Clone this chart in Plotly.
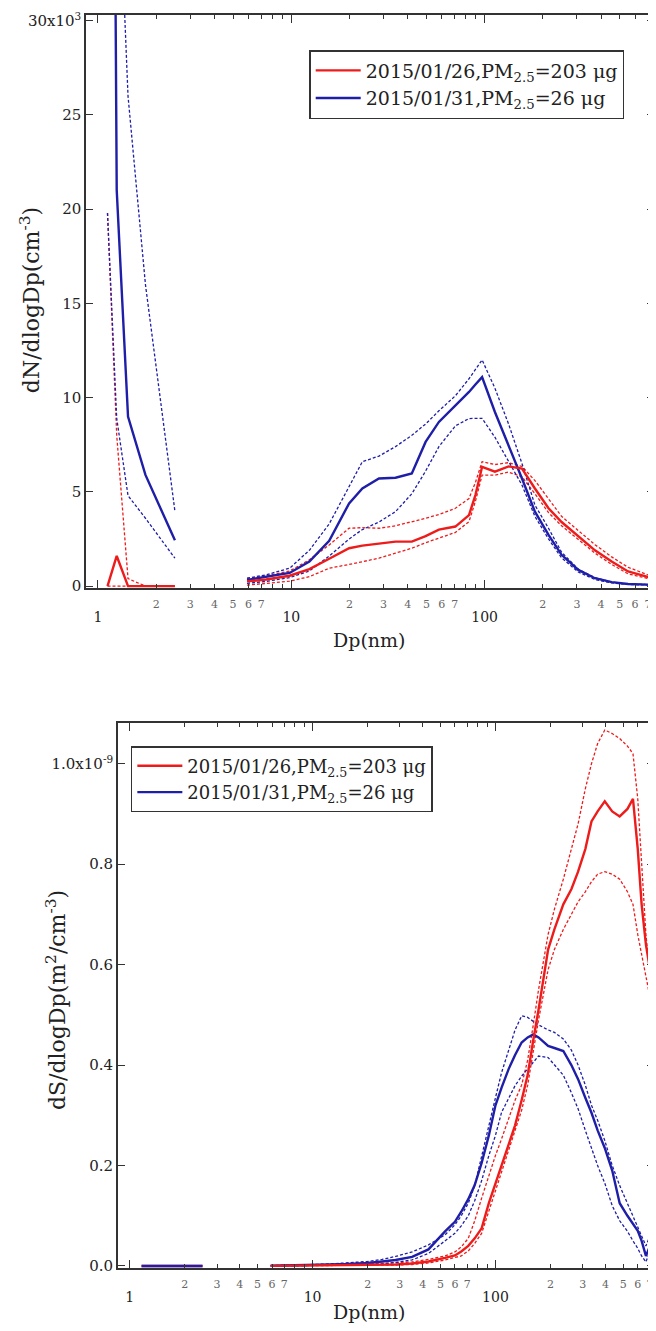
import plotly.graph_objects as go

FONT = "DejaVu Serif"
RED = "#ee1b1b"
BLUE = "#1e1ea8"
AXC = "#333333"

# ---------------- data: number size distribution (top) ----------------
psm_dp_n = [1.12, 1.25, 1.43, 1.76, 2.5]
psm_red_n = [0, 1600, 0, 0, 0]
psm_red_n_hi = [19800, 8000, 400, 0, 0]
psm_red_n_lo = [0, 0, 0, 0, 0]
psm_blue_n = [100000, 21000, 9000, 5900, 2430]
psm_blue_n_hi = [60000, 40700, 26000, 16000, 3970]
psm_blue_n_lo = [19800, 8900, 4800, 3600, 1480]

dp_n = [5.9, 7.4, 9.8, 12.4, 15.7, 19.9, 23.3, 28.4, 34.6, 42, 49.5, 58, 70.6, 83,
        89.6, 97, 113, 133, 156, 182, 214, 250, 305, 372, 454, 552, 750]
red_n = [250, 350, 550, 900, 1450, 2010, 2150, 2250, 2360, 2360, 2650, 3000, 3160, 3770,
         4830, 6330, 6070, 6350, 6240, 5180, 4130, 3400, 2650, 1900, 1300, 780, 390]
red_n_hi = [400, 550, 800, 1400, 2185, 3070, 3100, 3070, 3200, 3400, 3600, 3800, 4130, 4650,
            5500, 6600, 6450, 6550, 6350, 5600, 4600, 3700, 2950, 2200, 1550, 1000, 480]
red_n_lo = [50, 150, 260, 500, 950, 1150, 1300, 1480, 1750, 2010, 2300, 2540, 2850, 3420,
            4500, 5890, 5890, 6050, 5800, 4900, 3900, 3200, 2450, 1750, 1150, 650, 330]
blue_n = [330, 510, 700, 1300, 2400, 4390, 5180, 5710, 5750, 5980, 7650, 8710, 9590, 10300,
          10700, 11090, 9240, 7480, 5710, 3950, 2715, 1660, 860, 420, 210, 110, 70]
blue_n_hi = [420, 600, 950, 1900, 3300, 5300, 6600, 6900, 7400, 8000, 8600, 9300, 10100, 11000,
             11500, 12000, 10500, 8600, 6500, 4300, 3070, 1800, 900, 450, 220, 110, 70]
blue_n_lo = [150, 250, 450, 800, 1600, 2500, 3000, 3400, 3950, 4900, 6100, 7400, 8500, 8890,
             8900, 8900, 7900, 6600, 5360, 3700, 2500, 1500, 750, 350, 170, 90, 50]

# ---------------- data: surface size distribution (bottom, units of 1e-9) ----------------
psm_dp_s = [1.16, 1.25, 1.43, 1.76, 2.5]
psm_red_s = [0, 0, 0, 0, 0]
psm_blue_s = [0, 0, 0, 0, 0]

dp_s = [5.9, 8, 10, 12.4, 15.7, 20, 24, 28.4, 35, 43, 53, 60, 65, 71, 77, 84, 92, 100, 108,
        118, 128, 139, 150, 161, 172, 194, 210, 235, 260, 283, 310, 335, 362, 396, 435, 478,
        527, 565, 600, 630, 665, 700, 740]
red_s = [0.0002, 0.0005, 0.001, 0.0015, 0.002, 0.0025, 0.003, 0.003, 0.005, 0.009, 0.016,
         0.021, 0.029, 0.04, 0.055, 0.075, 0.125, 0.165, 0.20, 0.24, 0.28, 0.33, 0.38, 0.45,
         0.51, 0.63, 0.67, 0.72, 0.75, 0.785, 0.83, 0.885, 0.905, 0.925, 0.905, 0.895, 0.91,
         0.93, 0.83, 0.72, 0.64, 0.59, 0.55]
red_s_hi = [0.0005, 0.001, 0.0015, 0.002, 0.003, 0.004, 0.005, 0.006, 0.008, 0.013, 0.02,
            0.028, 0.038, 0.055, 0.09, 0.135, 0.18, 0.22, 0.253, 0.295, 0.33, 0.36, 0.41, 0.48,
            0.55, 0.66, 0.71, 0.77, 0.83, 0.88, 0.95, 1.00, 1.04, 1.067, 1.06, 1.05, 1.035,
            1.02, 0.93, 0.80, 0.66, 0.58, 0.52]
red_s_lo = [0.0001, 0.0002, 0.0005, 0.001, 0.0015, 0.002, 0.002, 0.002, 0.003, 0.006, 0.012,
            0.016, 0.02, 0.03, 0.045, 0.065, 0.11, 0.15, 0.19, 0.23, 0.27, 0.31, 0.36, 0.43,
            0.49, 0.59, 0.63, 0.67, 0.70, 0.725, 0.745, 0.765, 0.78, 0.785, 0.78, 0.77, 0.745,
            0.72, 0.66, 0.62, 0.57, 0.53, 0.49]
blue_s = [0.0005, 0.001, 0.002, 0.003, 0.004, 0.006, 0.009, 0.012, 0.018, 0.033, 0.069,
          0.088, 0.108, 0.133, 0.161, 0.205, 0.26, 0.32, 0.355, 0.392, 0.42, 0.445, 0.455,
          0.461, 0.455, 0.438, 0.434, 0.428, 0.40, 0.372, 0.335, 0.305, 0.27, 0.235, 0.19,
          0.125, 0.10, 0.085, 0.07, 0.05, 0.02, 0.04, 0.065]
blue_s_hi = [0.001, 0.0015, 0.003, 0.004, 0.006, 0.009, 0.013, 0.019, 0.028, 0.042, 0.062,
             0.082, 0.1, 0.125, 0.16, 0.22, 0.28, 0.335, 0.385, 0.432, 0.47, 0.498, 0.495,
             0.487, 0.48, 0.47, 0.465, 0.452, 0.43, 0.40, 0.36, 0.32, 0.29, 0.25, 0.2, 0.16,
             0.125, 0.10, 0.08, 0.06, 0.04, 0.06, 0.10]
blue_s_lo = [0.0002, 0.0004, 0.0008, 0.001, 0.002, 0.003, 0.004, 0.007, 0.012, 0.025, 0.049,
             0.065, 0.08, 0.1, 0.13, 0.17, 0.22, 0.26, 0.306, 0.335, 0.359, 0.378, 0.392,
             0.405, 0.418, 0.415, 0.40, 0.38, 0.345, 0.313, 0.27, 0.235, 0.2, 0.165, 0.12,
             0.09, 0.069, 0.05, 0.035, 0.02, 0.008, 0.03, 0.05]

# ---------------- labels ----------------
series_names = ["2015/01/26,PM<sub>2.5</sub>=203 μg", "2015/01/31,PM<sub>2.5</sub>=26 μg"]
x_title = "Dp(nm)"
y_title_top = "dN/dlogDp(cm<sup>-3</sup>)"
y_title_bot = "dS/dlogDp(m<sup>2</sup>/cm<sup>-3</sup>)"
y_ticks_top = [0, 5000, 10000, 15000, 20000, 25000, 30000]
y_ticktext_top = ["0", "5", "10", "15", "20", "25", "30x10<sup>3</sup>"]
y_ticks_bot = [0, 0.2, 0.4, 0.6, 0.8, 1.0]
y_ticktext_bot = ["0.0", "0.2", "0.4", "0.6", "0.8", "1.0x10<sup>-9</sup>"]
decades = [1, 10, 100]
labeled_mantissas = [1, 2, 3, 4, 5, 6, 7]
unlabeled_mantissas = [8, 9]

x_tickvals, x_ticktext, x_minorvals = [], [], []
for d in decades:
    for m in labeled_mantissas:
        x_tickvals.append(d * m)
        if m == 1:
            x_ticktext.append("<br><span style='font-size:14px;color:#222'>%d</span>" % (d * m))
        else:
            x_ticktext.append(str(m))
    for m in unlabeled_mantissas:
        if d * m < 760:
            x_minorvals.append(d * m)

fig = go.Figure()


def add(x, y, color, width, dash, xa, ya, name=None, legend=None, rank=None):
    fig.add_trace(go.Scatter(
        x=x, y=y, mode="lines", xaxis=xa, yaxis=ya,
        line=dict(color=color, width=width, dash=dash),
        name=name if name else "", showlegend=name is not None,
        legend=legend if legend else "legend",
        legendrank=rank if rank else 1000, hoverinfo="skip"))


DASH = "3px,2px"
# top panel
for xs, ys, c in [(psm_dp_n, psm_red_n_hi, RED), (psm_dp_n, psm_red_n_lo, RED),
                  (psm_dp_n, psm_blue_n_hi, BLUE), (psm_dp_n, psm_blue_n_lo, BLUE),
                  (dp_n, red_n_hi, RED), (dp_n, red_n_lo, RED),
                  (dp_n, blue_n_hi, BLUE), (dp_n, blue_n_lo, BLUE)]:
    add(xs, ys, c, 1.3, DASH, "x", "y")
add(psm_dp_n, psm_red_n, RED, 2.4, "solid", "x", "y")
add(psm_dp_n, psm_blue_n, BLUE, 2.4, "solid", "x", "y")
add(dp_n, blue_n, BLUE, 2.4, "solid", "x", "y", series_names[1], "legend", 2)
add(dp_n, red_n, RED, 2.4, "solid", "x", "y", series_names[0], "legend", 1)

# bottom panel
for xs, ys, c in [(dp_s, red_s_hi, RED), (dp_s, red_s_lo, RED),
                  (dp_s, blue_s_hi, BLUE), (dp_s, blue_s_lo, BLUE)]:
    add(xs, ys, c, 1.3, DASH, "x2", "y2")
add(psm_dp_s, psm_red_s, RED, 2.4, "solid", "x2", "y2")
add(psm_dp_s, psm_blue_s, BLUE, 2.4, "solid", "x2", "y2")
add(dp_s, blue_s, BLUE, 2.4, "solid", "x2", "y2", series_names[1], "legend2", 2)
add(dp_s, red_s, RED, 2.4, "solid", "x2", "y2", series_names[0], "legend2", 1)

# dummy traces for the overlay axes carrying the long decade ticks
fig.add_trace(go.Scatter(x=[1], y=[None], xaxis="x3", yaxis="y", showlegend=False, hoverinfo="skip"))
fig.add_trace(go.Scatter(x=[1], y=[None], xaxis="x4", yaxis="y2", showlegend=False, hoverinfo="skip"))

# page body has an 8px default margin: the figure starts at screen (8, 8)
OFF = 8
W, H = 656 - OFF, 1331 - 2 * OFF
ML, MR, MT = 86 - OFF, 0, 15 - OFF
MB = H - (1268 - OFF)
PW, PH = W - ML - MR, H - MT - MB


def px2paper(sx, sy):
    fx, fy = sx - OFF, sy - OFF
    return (fx - ML) / PW, (H - MB - fy) / PH


top_dom = [px2paper(0, 588)[1], 1.0]
bot_dom = [0.0, px2paper(0, 723)[1]]
bot_xdom = [px2paper(118, 0)[0], 1.0]

xrange_top = [-0.062, 2.876]
xrange_bot = [-0.065, 2.867]

common_x = dict(type="log", showgrid=False, zeroline=False, showline=True, linecolor=AXC,
                linewidth=1.5, mirror="ticks", ticks="inside", tickcolor=AXC, tickwidth=1)
minor_x = dict(tickmode="array", tickvals=x_minorvals, ticks="inside", ticklen=4,
               tickcolor=AXC, tickwidth=1, showgrid=False)

fig.update_layout(
    width=W, height=H, margin=dict(l=ML, r=MR, t=MT, b=MB),
    paper_bgcolor="white", plot_bgcolor="white",
    font=dict(family=FONT, color="#222"),
    xaxis=dict(common_x, domain=[0, 1], anchor="y", range=xrange_top, ticklen=4,
               tickvals=x_tickvals, ticktext=x_ticktext, ticklabelstandoff=5,
               ticklabeloverflow="allow", minor=minor_x,
               tickfont=dict(family=FONT, size=11, color="#666")),
    xaxis3=dict(common_x, domain=[0, 1], anchor="y", overlaying="x", range=xrange_top,
                ticklen=8, tickvals=decades, showticklabels=False),
    yaxis=dict(domain=top_dom, anchor="x", range=[-100, 30300], showgrid=False, zeroline=False,
               showline=True, linecolor=AXC, linewidth=1.5, mirror="ticks", ticks="inside",
               ticklen=7, tickcolor=AXC, tickvals=y_ticks_top, ticktext=y_ticktext_top,
               tickfont=dict(family=FONT, size=15, color="#222")),
    xaxis2=dict(common_x, domain=bot_xdom, anchor="y2", range=xrange_bot, ticklen=4,
                tickvals=x_tickvals, ticktext=x_ticktext, ticklabelstandoff=5,
                ticklabeloverflow="allow", minor=minor_x,
                tickfont=dict(family=FONT, size=11, color="#666")),
    xaxis4=dict(common_x, domain=bot_xdom, anchor="y2", overlaying="x2", range=xrange_bot,
                ticklen=8, tickvals=decades, showticklabels=False),
    yaxis2=dict(domain=bot_dom, anchor="x2", range=[-0.004, 1.081], showgrid=False,
                zeroline=False, showline=True, linecolor=AXC, linewidth=1.5, mirror="ticks",
                ticks="inside", ticklen=7, tickcolor=AXC, tickvals=y_ticks_bot,
                ticktext=y_ticktext_bot, tickfont=dict(family=FONT, size=15, color="#222")),
    legend=dict(x=px2paper(310, 0)[0], y=px2paper(0, 50)[1], xanchor="left", yanchor="top",
                bgcolor="white", bordercolor="#333", borderwidth=1.5, itemwidth=45,
                font=dict(family=FONT, size=19, color="#222"), traceorder="normal"),
    legend2=dict(x=px2paper(131, 0)[0], y=px2paper(0, 746)[1], xanchor="left", yanchor="top",
                 bgcolor="white", bordercolor="#333", borderwidth=1.5, itemwidth=45,
                 font=dict(family=FONT, size=18, color="#222"), traceorder="normal"),
)

annots = []
for (sx, sy, txt, ang) in [(30, 300, y_title_top, -90), (56, 1000, y_title_bot, -90),
                           (370, 640, x_title, 0), (370, 1312, x_title, 0)]:
    xp, yp = px2paper(sx, sy)
    annots.append(dict(x=xp, y=yp, xref="paper", yref="paper", text=txt, textangle=ang,
                       showarrow=False, xanchor="center", yanchor="middle",
                       font=dict(family=FONT, size=19 if ang == 0 else 22, color="#222")))
fig.update_layout(annotations=annots)

fig.write_html("out.html")
